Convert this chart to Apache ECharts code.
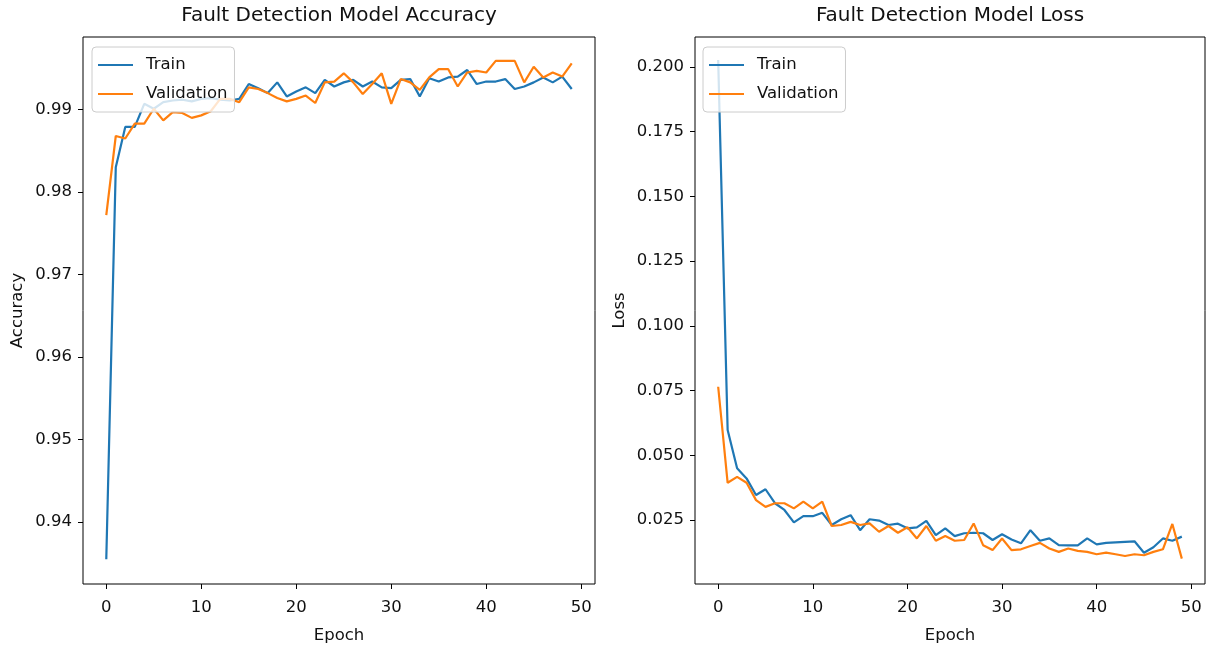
<!DOCTYPE html>
<html><head><meta charset="utf-8">
<script src="https://cdn.jsdelivr.net/npm/echarts@6/dist/echarts.min.js"></script>
<style>html,body{margin:0;padding:0;background:#fff}#c{width:1208px;height:649px}</style>
</head><body><div id="c"></div>
<script>
const epochs = [0,1,2,3,4,5,6,7,8,9,10,11,12,13,14,15,16,17,18,19,20,21,22,23,24,25,26,27,28,29,30,31,32,33,34,35,36,37,38,39,40,41,42,43,44,45,46,47,48,49];
const trainAcc = [0.9355,0.9830,0.9879,0.9879,0.9907,0.9901,0.9909,0.9911,0.9912,0.9910,0.9913,0.9914,0.9912,0.9911,0.9913,0.9931,0.9926,0.9920,0.9933,0.9916,0.9922,0.9927,0.9920,0.9936,0.9928,0.9933,0.9936,0.9928,0.9934,0.9927,0.9926,0.9936,0.9937,0.9916,0.9938,0.9934,0.9939,0.9940,0.9948,0.9931,0.9934,0.9934,0.9937,0.9925,0.9928,0.9933,0.9939,0.9933,0.9940,0.9925];
const valAcc = [0.9772,0.9868,0.9865,0.9883,0.9883,0.9901,0.9887,0.9897,0.9896,0.9890,0.9893,0.9898,0.9913,0.9913,0.9909,0.9927,0.9925,0.9920,0.9914,0.9910,0.9913,0.9917,0.9908,0.9933,0.9934,0.9944,0.9933,0.9919,0.9931,0.9944,0.9907,0.9937,0.9933,0.9924,0.9939,0.9949,0.9949,0.9928,0.9945,0.9947,0.9945,0.9959,0.9959,0.9959,0.9933,0.9952,0.9939,0.9945,0.9940,0.9956];
const trainLoss = [0.2027,0.0598,0.0450,0.0411,0.0347,0.0369,0.0315,0.0289,0.0241,0.0265,0.0265,0.0278,0.0231,0.0253,0.0269,0.0211,0.0253,0.0248,0.0231,0.0236,0.0218,0.0222,0.0247,0.0192,0.0218,0.0188,0.0199,0.0201,0.0199,0.0173,0.0195,0.0175,0.0160,0.0211,0.0170,0.0179,0.0153,0.0152,0.0152,0.0179,0.0156,0.0162,0.0164,0.0166,0.0168,0.0124,0.0145,0.0179,0.0170,0.0186];
const valLoss = [0.0765,0.0394,0.0417,0.0394,0.0327,0.0301,0.0315,0.0315,0.0295,0.0321,0.0295,0.0321,0.0227,0.0231,0.0243,0.0231,0.0237,0.0205,0.0227,0.0201,0.0222,0.0179,0.0227,0.0170,0.0188,0.0170,0.0173,0.0237,0.0153,0.0134,0.0179,0.0134,0.0137,0.0150,0.0162,0.0140,0.0127,0.0140,0.0131,0.0127,0.0118,0.0124,0.0118,0.0111,0.0118,0.0114,0.0127,0.0137,0.0235,0.0101];
const epochTicks = [0,10,20,30,40,50];
const accTicks = [0.94,0.95,0.96,0.97,0.98,0.99];
const lossTicks = [0.025,0.05,0.075,0.1,0.125,0.15,0.175,0.2];
const seriesNames = ['Train','Validation'];
const titles = ['Fault Detection Model Accuracy','Fault Detection Model Loss'];
const yNames = ['Accuracy','Loss'];
const xName = 'Epoch';

const FONT = 'DejaVu Sans';
const BLUE = '#1f77b4', ORANGE = '#ff7f0e';
const pairs = (vals) => epochs.map((e, i) => [e, vals[i]]);

const chart = echarts.init(document.getElementById('c'), null, {renderer: 'canvas'});

const tickFont = {fontFamily: FONT, fontSize: 16.5, color: '#111'};

function xAxis(gi) {
  return {
    type: 'value', gridIndex: gi, min: -2.45, max: 51.45,
    axisLine: {show: false, onZero: false}, splitLine: {show: false},
    axisTick: {show: true, length: 5, lineStyle: {color: '#000', width: 1}, customValues: epochTicks},
    axisLabel: Object.assign({customValues: epochTicks, margin: 15, formatter: v => String(v)}, tickFont),
    name: xName, nameLocation: 'middle', nameGap: 43,
    nameTextStyle: {fontFamily: FONT, fontSize: 16.5, color: '#111'}
  };
}
function yAxis(gi, min, max, ticks, dec, gap) {
  return {
    type: 'value', gridIndex: gi, min: min, max: max,
    axisLine: {show: false, onZero: false}, splitLine: {show: false},
    axisTick: {show: true, length: 5, lineStyle: {color: '#000', width: 1}, customValues: ticks},
    axisLabel: Object.assign({customValues: ticks, margin: 11, formatter: v => Number(v).toFixed(dec)}, tickFont),
    name: yNames[gi], nameLocation: 'middle', nameGap: gap, nameRotate: 90,
    nameTextStyle: {fontFamily: FONT, fontSize: 16.5, color: '#111'}
  };
}
const legendIcon = 'path://M0,8L35,8L35,10L0,10Z M43,0L43,0.01L42.99,0.01Z M0,18L0.01,18L0,17.99Z';
function legend(left) {
  return {
    orient: 'vertical', left: left, top: 47,
    data: seriesNames,
    icon: legendIcon, itemWidth: 43, itemHeight: 18, itemGap: 11,
    itemStyle: {borderWidth: 0},
    padding: [9, 7, 9, 6],
    backgroundColor: 'rgba(255,255,255,0.8)',
    borderColor: '#cccccc', borderWidth: 1, borderRadius: 4,
    textStyle: {fontFamily: FONT, fontSize: 16.5, color: '#111', lineHeight: 18},
    selectedMode: false
  };
}
function line(name, data, color, gi) {
  return {
    type: 'line', name: name, xAxisIndex: gi, yAxisIndex: gi, data: data,
    showSymbol: false, symbol: 'none', color: color,
    lineStyle: {color: color, width: 2.2}, animation: false, silent: true
  };
}

chart.setOption({
  animation: false,
  backgroundColor: '#fff',
  title: [
    {text: titles[0], left: 339, top: 6, textAlign: 'center', padding: 0,
     textStyle: {fontFamily: FONT, fontSize: 20, fontWeight: 'normal', color: '#111'}},
    {text: titles[1], left: 950, top: 6, textAlign: 'center', padding: 0,
     textStyle: {fontFamily: FONT, fontSize: 20, fontWeight: 'normal', color: '#111'}}
  ],
  grid: [
    {left: 83, top: 37, width: 512, height: 547, show: true, borderColor: '#000', borderWidth: 1, backgroundColor: 'transparent', containLabel: false, outerBoundsMode: 'none'},
    {left: 695, top: 37, width: 510, height: 547, show: true, borderColor: '#000', borderWidth: 1, backgroundColor: 'transparent', containLabel: false, outerBoundsMode: 'none'}
  ],
  xAxis: [xAxis(0), xAxis(1)],
  yAxis: [yAxis(0, 0.9325, 0.9988, accTicks, 2, 57), yAxis(1, 0.0003, 0.2116, lossTicks, 3, 67)],
  legend: [legend(92), legend(703)],
  series: [
    line(seriesNames[0], pairs(trainAcc), BLUE, 0),
    line(seriesNames[1], pairs(valAcc), ORANGE, 0),
    line(seriesNames[0], pairs(trainLoss), BLUE, 1),
    line(seriesNames[1], pairs(valLoss), ORANGE, 1)
  ]
});
</script></body></html>
